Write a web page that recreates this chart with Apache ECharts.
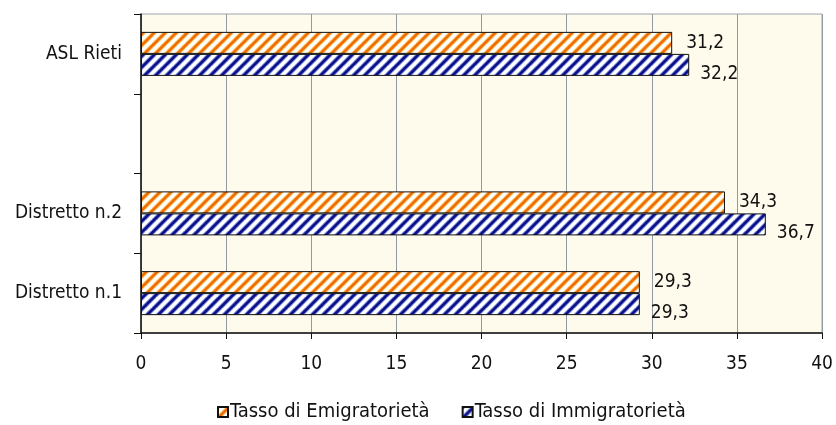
<!DOCTYPE html>
<html>
<head>
<meta charset="utf-8">
<script src="https://cdn.jsdelivr.net/npm/echarts@6/dist/echarts.min.js"></script>
<style>
  html, body { margin: 0; padding: 0; background: #ffffff; }
  #chart { width: 836px; height: 425px; }
</style>
</head>
<body>
<div id="chart"></div>
<script>
// Categories, bottom to top (the third slot is intentionally blank)
const categories = ['Distretto n.1', 'Distretto n.2', '', 'ASL Rieti'];
const emigrazione = [29.3, 34.3, null, 31.2];
const immigrazione = [29.3, 36.7, null, 32.2];
const seriesNames = ['Tasso di Emigratorietà', 'Tasso di Immigratorietà'];
const xTicks = [0, 5, 10, 15, 20, 25, 30, 35, 40];

// Diagonal hatch fill ("/" stripes on white)
function hatch(edge, core) {
  const s = 11;
  const c = document.createElement('canvas');
  c.width = s; c.height = s;
  const g = c.getContext('2d');
  g.fillStyle = '#ffffff';
  g.fillRect(0, 0, s, s);
  const draw = (w, col) => {
    g.strokeStyle = col;
    g.lineWidth = w;
    g.beginPath();
    for (let k = -1; k <= 1; k++) {
      g.moveTo(k * s - 1, s + 1);
      g.lineTo(k * s + s + 1, -1);
    }
    g.stroke();
  };
  draw(4.4, edge);
  draw(2.6, core);
  return { image: c, repeat: 'repeat' };
}

const orangeFill = hatch('#f8c458', '#f06c08');
const blueFill = hatch('#6f86d8', '#10108a');

const fmt = p => String(p.value).replace('.', ',');
const FONT = 'DejaVu Sans Condensed';

const chart = echarts.init(document.getElementById('chart'), null, { renderer: 'canvas' });
chart.setOption({
  animation: false,
  textStyle: { fontFamily: FONT },
  grid: {
    left: 141, right: 14, top: 14, bottom: 92,
    show: true, backgroundColor: '#fefbec',
    borderColor: '#9aa4a8', borderWidth: 1
  },
  legend: {
    top: 397,
    left: 212,
    data: seriesNames,
    icon: 'rect',
    itemWidth: 10, itemHeight: 10,
    itemGap: 32,
    textStyle: { fontSize: 20, color: '#111', padding: [0, 0, 0, -3] }
  },
  xAxis: {
    type: 'value',
    min: xTicks[0], max: xTicks[xTicks.length - 1], interval: 5,
    axisLine: { show: true, lineStyle: { color: '#111', width: 1.5 } },
    axisTick: { show: true, length: 6, lineStyle: { color: '#111' } },
    axisLabel: { fontSize: 19, color: '#111', margin: 22 },
    splitLine: { show: true, lineStyle: { color: '#8e9ca2', width: 1 } }
  },
  yAxis: {
    type: 'category',
    data: categories,
    axisLine: { show: true, lineStyle: { color: '#111', width: 1.5 } },
    axisTick: { show: true, length: 7, lineStyle: { color: '#111' } },
    axisLabel: { fontSize: 19, color: '#111', margin: 19 },
    splitLine: { show: false }
  },
  series: [
    {
      name: seriesNames[0],
      type: 'bar',
      data: emigrazione,
      barWidth: 22,
      barGap: '0%',
      itemStyle: { color: orangeFill, borderColor: '#111', borderWidth: 1 },
      label: { show: true, position: 'right', distance: 14, offset: [0, 0], fontSize: 19, color: '#111', formatter: fmt }
    },
    {
      name: seriesNames[1],
      type: 'bar',
      data: immigrazione,
      barWidth: 22,
      barGap: '0%',
      itemStyle: { color: blueFill, borderColor: '#111', borderWidth: 1 },
      label: { show: true, position: 'right', distance: 11, offset: [0, 9], fontSize: 19, color: '#111', formatter: fmt }
    }
  ]
});
</script>
</body>
</html>
